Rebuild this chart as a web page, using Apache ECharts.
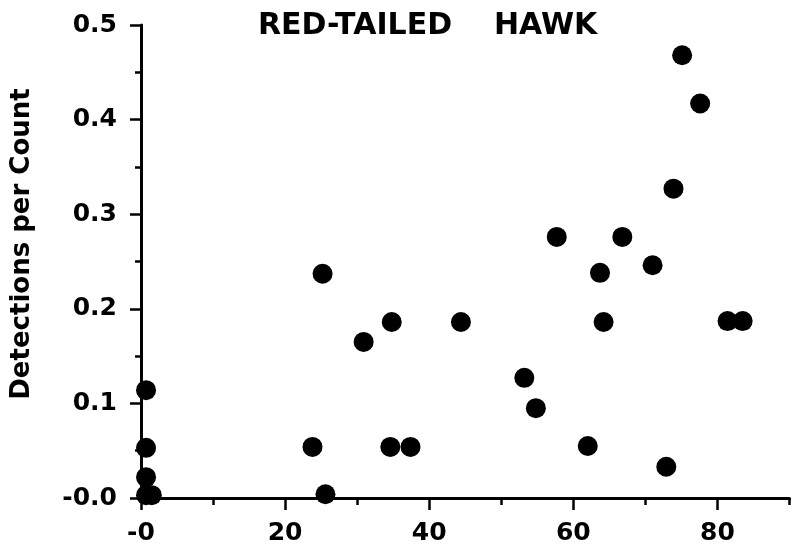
<!DOCTYPE html>
<html>
<head>
<meta charset="utf-8">
<title>Red-tailed Hawk</title>
<script src="https://cdn.jsdelivr.net/npm/echarts@6/dist/echarts.min.js"></script>
<style>
  html, body { margin: 0; padding: 0; background: #fff; }
  #graphics { width: 793px; height: 547px; }
</style>
</head>
<body>
<div id="graphics"></div>
<script>
// data
const hawkX = [0.7, 0.7, 0.7, 0.7, 1.5, 23.8, 25.6, 25.2, 30.9, 34.6, 34.8, 37.4, 44.4,
    53.2, 54.8, 57.7, 62.0, 63.7, 64.2, 66.8, 71.0, 72.9, 73.9, 75.1, 77.6, 81.4, 83.5];
const hawkY = [0.114, 0.053, 0.022, 0.003, 0.003, 0.054, 0.004, 0.237, 0.165, 0.054, 0.186, 0.054, 0.186,
    0.127, 0.095, 0.276, 0.055, 0.238, 0.186, 0.276, 0.246, 0.033, 0.327, 0.468, 0.417, 0.187, 0.187];

const xTickValues = [0, 20, 40, 60, 80];
const xTickLabels = ["-0", "20", "40", "60", "80"];
const yTickLabels = ["-0.0", "0.1", "0.2", "0.3", "0.4", "0.5"];

const font = "DejaVu Sans";

let points = [];
for (let i = 0; i < hawkX.length; i++) {
    points.push([hawkX[i], hawkY[i]]);
}

var myChart = echarts.init(document.getElementById('graphics'));

var option = {
    backgroundColor: '#fff',
    animation: false,
    title: {
        text: 'RED-TAILED    HAWK',
        left: 253,
        top: 6,
        textStyle: { fontFamily: font, fontWeight: 'bold', fontSize: 30, color: '#000' }
    },
    graphic: [{
        type: 'text',
        x: 22,
        y: 244,
        rotation: Math.PI / 2,
        style: {
            text: 'Detections per Count',
            font: 'bold 26px "DejaVu Sans"',
            fill: '#000',
            align: 'center',
            verticalAlign: 'middle'
        }
    }],
    grid: { left: 141, right: 3.5, top: 25, bottom: 49 },
    xAxis: [{
        type: 'value',
        position: 'bottom',
        min: 0,
        max: 90,
        splitLine: { show: false },
        axisLine: { lineStyle: { color: '#000', width: 3 } },
        axisTick: { customValues: xTickValues, length: 12, lineStyle: { color: '#000', width: 2.5 } },
        axisLabel: {
            customValues: xTickValues,
            margin: 23,
            fontFamily: font, fontWeight: 'bold', fontSize: 25, color: '#000',
            formatter: function (v) {
                let i = xTickValues.indexOf(Math.round(v));
                return i >= 0 ? xTickLabels[i] : '';
            }
        }
    }, {
        // short ticks every 10
        type: 'value',
        position: 'bottom',
        min: 0,
        max: 90,
        interval: 10,
        splitLine: { show: false },
        axisLine: { show: false },
        axisTick: { length: 7, lineStyle: { color: '#000', width: 2.5 } },
        axisLabel: { show: false }
    }],
    yAxis: {
        type: 'value',
        min: 0,
        max: 0.5,
        interval: 0.1,
        splitLine: { show: false },
        axisLine: { lineStyle: { color: '#000', width: 3 } },
        axisTick: { length: 11, lineStyle: { color: '#000', width: 2.5 } },
        minorTick: { show: true, splitNumber: 2, length: 6, lineStyle: { color: '#000', width: 2.5 } },
        axisLabel: {
            margin: 24,
            fontFamily: font, fontWeight: 'bold', fontSize: 25, color: '#000',
            formatter: function (v) {
                return yTickLabels[Math.round(v * 10)];
            }
        }
    },
    series: [{
        type: 'scatter',
        data: points,
        symbol: 'circle',
        symbolSize: 20,
        itemStyle: { color: '#000', opacity: 1 }
    }]
};

myChart.setOption(option);
</script>
</body>
</html>
